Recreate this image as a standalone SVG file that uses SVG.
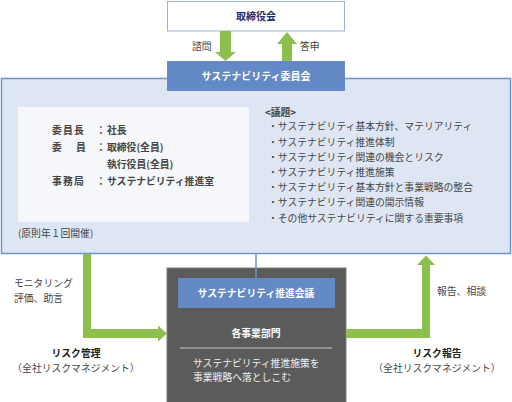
<svg xmlns="http://www.w3.org/2000/svg" width="512" height="402" viewBox="0 0 512 402">
<style>
text{font-family:"Noto Sans CJK JP","Noto Sans",sans-serif;font-size:9.8px;fill:#454545}
.b{font-weight:bold}
.w{fill:#ffffff;font-weight:bold}
.c{text-anchor:middle}
.g{fill:#8cbf4b}
.sp{letter-spacing:1.2px}
</style>
<rect width="512" height="402" fill="#ffffff"/>
<g id="board">
<rect x="167.5" y="1.5" width="177" height="29.5" fill="#ffffff" stroke="#9bb1d6" stroke-width="1"/>
<text x="256" y="20" class="b c" style="fill:#1f2d6b;font-size:10px">取締役会</text>
</g>
<g id="committee">
<rect x="1.5" y="78.5" width="509" height="175" fill="#dfe6f3" stroke="#6f94cc" stroke-width="1.5"/>
<rect x="167" y="61" width="178" height="30" fill="#6389c6"/>
<text x="256" y="80" class="w c" style="font-size:10px">サステナビリティ委員会</text>
<rect x="18" y="107" width="231" height="115" fill="#f5f7fb"/>
<text x="52" y="134" class="b sp">委員長</text>
<text x="52" y="151" class="b">委</text><text x="76" y="151" class="b">員</text>
<text x="52" y="185" class="b sp">事務局</text>
<text x="96" y="134" class="b">：</text>
<text x="96" y="151" class="b">：</text>
<text x="96" y="185" class="b">：</text>
<text x="107" y="134" class="b">社長</text>
<text x="107" y="151" class="b">取締役(全員)</text>
<text x="107" y="168" class="b">執行役員(全員)</text>
<text x="107" y="185" class="b">サステナビリティ推進室</text>
<text x="18" y="237">(原則年１回開催)</text>
<text x="265" y="116" class="b">&lt;議題&gt;</text>
<text x="268" y="130">・サステナビリティ基本方針、マテリアリティ</text>
<text x="268" y="145.5">・サステナビリティ推進体制</text>
<text x="268" y="161">・サステナビリティ関連の機会とリスク</text>
<text x="268" y="176">・サステナビリティ推進施策</text>
<text x="268" y="191">・サステナビリティ基本方針と事業戦略の整合</text>
<text x="268" y="206">・サステナビリティ関連の開示情報</text>
<text x="268" y="221.5">・その他サステナビリティに関する重要事項</text>
</g>
<g id="business">
<rect x="167" y="268" width="179" height="136" fill="#5b5b5b" stroke="#7d7d7d" stroke-width="1"/>
<rect x="178" y="278" width="157" height="30" fill="#6389c6"/>
<text x="256" y="297" class="w c">サステナビリティ推進会議</text>
<text x="256" y="337" class="w c">各事業部門</text>
<line x1="180" y1="348" x2="332" y2="348" stroke="#c8c8c8" stroke-width="1.2"/>
<text x="193" y="367" style="fill:#f0f0f0">サステナビリティ推進施策を</text>
<text x="193" y="381" style="fill:#f0f0f0">事業戦略へ落としこむ</text>
</g>
<g id="connectors">
<polygon class="g" points="220,31 231,31 231,52 236,52 225.5,61 215,52 220,52"/>
<polygon class="g" points="282,61 292,61 292,44 297,44 287,32 277,44 282,44"/>
<line x1="256" y1="254" x2="256" y2="278" stroke="#6f94cc" stroke-width="1.5"/>
<polygon class="g" points="83,254 91,254 91,329 158,329 158,325.5 167,333.5 158,341.5 158,338 83,338"/>
<polygon class="g" points="346,329 422,329 422,265 417,265 426,255.5 435,265 430,265 430,338 346,338"/>
</g>
<g id="labels">
<text x="192" y="50">諮問</text>
<text x="300" y="50">答申</text>
<text x="14" y="287">モニタリング</text>
<text x="14" y="302">評価、助言</text>
<text x="76" y="357" class="b c" style="fill:#222">リスク管理</text>
<text x="76" y="372" class="c">（全社リスクマネジメント）</text>
<text x="437" y="295">報告、相談</text>
<text x="437" y="357" class="b c" style="fill:#222">リスク報告</text>
<text x="437" y="372" class="c">（全社リスクマネジメント）</text>
</g>
</svg>
